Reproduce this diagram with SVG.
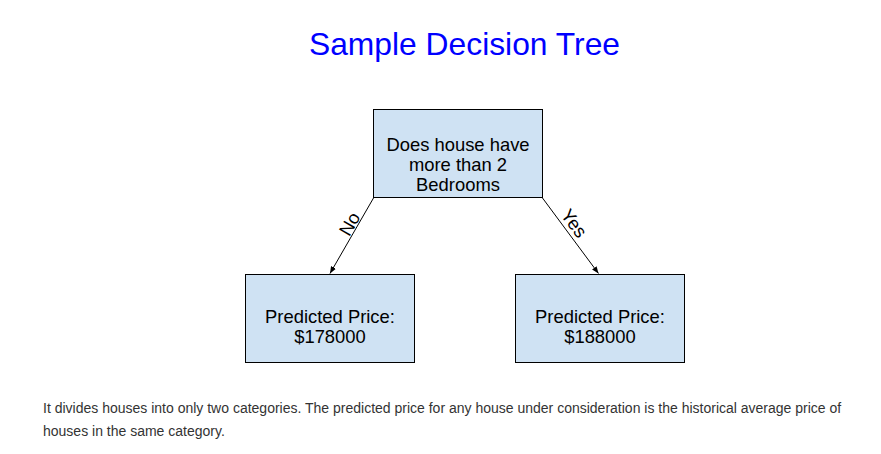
<svg xmlns="http://www.w3.org/2000/svg" width="881" height="454" viewBox="0 0 881 454">
<style>
text{font-family:"Liberation Sans",Arial,sans-serif}
.box{fill:#cfe2f3;stroke:#000;stroke-width:1}
.nt{font-size:18.4px;fill:#000;text-anchor:middle}
.lab{font-size:18.4px;fill:#000;text-anchor:middle}
.edge{stroke:#000;stroke-width:1;fill:none}
.para{font-size:14px;fill:#333}
</style>
<defs>
<marker id="ah" viewBox="0 0 10 10" refX="10" refY="5" markerWidth="7" markerHeight="7" orient="auto" markerUnits="userSpaceOnUse">
<path d="M0,1 L10,5 L0,9 z" fill="#000"/>
</marker>
</defs>
<rect width="881" height="454" fill="#fff"/>
<text x="464.5" y="55" font-size="31.8" fill="#0000ff" text-anchor="middle">Sample Decision Tree</text>
<g id="connectors">
<line class="edge" x1="373.5" y1="198" x2="330" y2="273.5" marker-end="url(#ah)"/>
<line class="edge" x1="542.5" y1="198" x2="598.5" y2="273.5" marker-end="url(#ah)"/>
<text class="lab" transform="translate(355,227) rotate(-60)">No</text>
<text class="lab" transform="translate(569,227) rotate(53)">Yes</text>
</g>
<g id="root">
<rect class="box" x="373.5" y="109.5" width="169" height="88"/>
<text class="nt" x="458" y="150.5">Does house have</text>
<text class="nt" x="458" y="170.8">more than 2</text>
<text class="nt" x="458" y="191">Bedrooms</text>
</g>
<g id="no-leaf">
<rect class="box" x="245.5" y="274.5" width="169" height="88"/>
<text class="nt" x="330" y="322.5">Predicted Price:</text>
<text class="nt" x="330" y="343">$178000</text>
</g>
<g id="yes-leaf">
<rect class="box" x="515.5" y="274.5" width="169" height="88"/>
<text class="nt" x="600" y="322.5">Predicted Price:</text>
<text class="nt" x="600" y="343">$188000</text>
</g>
<text class="para" x="43" y="413.3">It divides houses into only two categories. The predicted price for any house under consideration is the historical average price of</text>
<text class="para" x="43" y="436">houses in the same category.</text>
</svg>
